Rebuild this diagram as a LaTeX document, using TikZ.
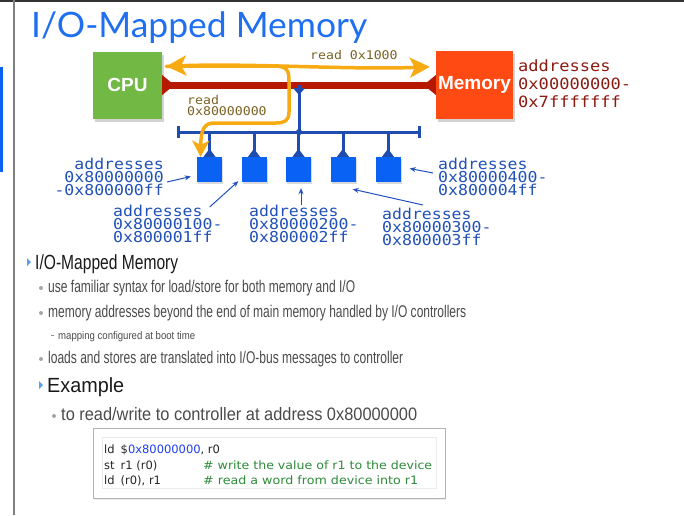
\documentclass[tikz,border=0pt]{standalone}
\usepackage{fontspec}
\usepackage{graphicx}
\setmainfont{Liberation Sans}
\newfontfamily\titlefont{Lato}
\newfontfamily\addrfont[FakeStretch=1.1]{DejaVu Sans Mono}
\newfontfamily\codefont{DejaVu Sans}
\usetikzlibrary{arrows.meta,positioning,shadows,calc}
\definecolor{titleblue}{HTML}{1F6FF0}
\definecolor{cpugreen}{HTML}{72B844}
\definecolor{memred}{HTML}{FF4A14}
\definecolor{rbuscol}{HTML}{B51A00}
\definecolor{buscol}{HTML}{1E4CB0}
\definecolor{devblue}{HTML}{0A62F5}
\definecolor{addrblue}{HTML}{2050B8}
\definecolor{addrred}{HTML}{8B1A10}
\definecolor{rdbrown}{HTML}{7A6224}
\definecolor{flowor}{HTML}{F7AA12}
\definecolor{bodygray}{HTML}{4A4A4A}
\definecolor{tribullet}{HTML}{5BA0F0}
\definecolor{codegreen}{HTML}{2E8B3A}
\definecolor{codeblue}{HTML}{2040F0}
\newcommand{\fitto}[2]{\resizebox{#1}{\height}{#2}}
\tikzset{unitbox/.style={minimum height=67, text=white, font=\bfseries\fontsize{19}{20}\selectfont, inner sep=0,
    drop shadow={opacity=0.35, shadow xshift=2pt, shadow yshift=-3pt}}}
\tikzset{dev/.style={fill=devblue, minimum width=25, minimum height=25, inner sep=0,
    drop shadow={opacity=0.3, shadow xshift=1pt, shadow yshift=-2pt}}}
\tikzset{addr/.style={inner sep=0, text=addrblue, font=\addrfont\fontsize{15}{13}\selectfont}}
\tikzset{rdlbl/.style={inner sep=0, text=rdbrown, font=\addrfont\fontsize{12}{11}\selectfont}}
\tikzset{rbus/.style={draw=rbuscol, line width=7pt}}
\tikzset{iobus/.style={draw=buscol, line width=3pt}}
\tikzset{flow/.style={draw=flowor, line width=3.5pt, line cap=round, line join=round}}
\tikzset{ptr/.style={draw=addrblue, line width=1pt, -{Stealth[length=6pt,width=5pt]}}}
\tikzset{head/.style={inner sep=0, text=black!90, font=\fontsize{20.5}{21}\selectfont}}
\tikzset{item/.style={inner sep=0, text=bodygray, font=\fontsize{17}{18}\selectfont}}
\tikzset{codeln/.style={inner sep=0, text=black!85, font=\codefont\fontsize{11.5}{12}\selectfont}}
\begin{document}
\begin{tikzpicture}[x=1pt,y=-1pt]
    \useasboundingbox (0,0) rectangle (684,515);
    % window edges
    \fill[black!80] (0,0) rectangle (684,1.5);
    \draw[gray, line width=2pt] (14,0) -- (14,515);
    \fill[devblue] (0,67) rectangle (3,172);
    %
    \node[inner sep=0, anchor=base west, text=titleblue, font=\titlefont\fontsize{35}{36}\selectfont] (title) at (31,37) {\fitto{336pt}{I/O-Mapped Memory}};
    %
    \node[unitbox, fill=cpugreen, minimum width=69] (cpu) at (127.5,85) {CPU};
    \node[unitbox, fill=memred, minimum width=77, minimum height=68] (mem) at (474.5,85) {Memory};
    \node[addr, text=addrred, font=\addrfont\fontsize{15.5}{18}\selectfont, anchor=north west, align=left] (maddr) at (518,60) {addresses\\0x00000000-\\0x7fffffff};
    %
    \foreach \i/\x in {1/209.5,2/254,3/298.5,4/343,5/388}
        \node[dev] (d\i) at (\x,169.5) {};
    \coordinate (busL) at (178,132);
    \coordinate (busR) at (419,132);
    \coordinate (tap) at (299,132);
    %
    \draw[rbus] (cpu.east) -- (mem.west);
    \fill[rbuscol] ($(cpu.east)+(0,-10)$) -- ($(cpu.east)+(12,0)$) -- ($(cpu.east)+(0,10)$) -- cycle;
    \fill[rbuscol] ($(mem.west)+(0,-10)$) -- ($(mem.west)+(-12,0)$) -- ($(mem.west)+(0,10)$) -- cycle;
    \draw[iobus] (tap |- cpu.east) -- (tap);
    \fill[buscol] ($(tap |- cpu.east)+(-6,3)$) -- ($(tap |- cpu.east)+(0,10)$) -- ($(tap |- cpu.east)+(6,3)$) -- cycle;
    \fill[buscol] ($(tap)+(-4,0)$) -- ($(tap)+(0,-4)$) -- ($(tap)+(4,0)$) -- ($(tap)+(0,4)$) -- cycle;
    \draw[iobus] (busL) -- (busR);
    \draw[iobus] ($(busL)+(0,-6)$) -- ($(busL)+(0,6)$);
    \draw[iobus] ($(busR)+(0,-6)$) -- ($(busR)+(0,6)$);
    \foreach \i in {1,...,5} {
        \draw[iobus] (d\i.north |- busL) -- (d\i.north);
        \fill[buscol] ($(d\i.north)+(-6,0)$) -- ($(d\i.north)+(0,-8)$) -- ($(d\i.north)+(6,0)$) -- cycle;
    }
    %
    \coordinate (fL) at ($(cpu.north east)+(4,15)$);
    \coordinate (fR) at ($(mem.north west)+(-6,16)$);
    \draw[flow, {Stealth[length=20pt,width=20pt,inset=5pt]}-{Stealth[length=20pt,width=20pt,inset=5pt]}] (fL) .. controls (250,63) and (350,70) .. (fR);
    \draw[flow, -{Stealth[length=16pt,width=17pt,inset=4pt]}] (fL) -- (272,66) .. controls (288,66) and (289,70) .. (289,82) -- (289,112)
        .. controls (289,121) and (284,123) .. (276,123) -- (214,123) .. controls (204,123) and (201,130) .. ($(d1.north)+(-9,0)$);
    \node[rdlbl, anchor=base west] (rd1) at (310,59) {read 0x1000};
    \node[rdlbl, anchor=north west, align=left] (rd2) at (187,95) {read\\0x80000000};
    %
    \node[addr, anchor=north east, align=right] (a1) at (164,158) {addresses\\0x80000000\\-0x800000ff};
    \node[addr, anchor=north west, align=left] (a2) at (113,205) {addresses\\0x80000100-\\0x800001ff};
    \node[addr, anchor=north west, align=left] (a3) at (249,205) {addresses\\0x80000200-\\0x800002ff};
    \node[addr, anchor=north west, align=left] (a4) at (382,208) {addresses\\0x80000300-\\0x800003ff};
    \node[addr, anchor=north west, align=left] (a5) at (438,158) {addresses\\0x80000400-\\0x800004ff};
    \draw[ptr] ($(a1.east)+(3,5)$) -- ($(d1.west)+(-6,7)$);
    \draw[ptr] ($(a2.north east)+(-13,2)$) -- ($(d2.south west)+(-3,-1)$);
    \draw[ptr] ($(d3.south)+(2.5,23)$) -- ($(d3.south)+(2.5,6)$);
    \draw[ptr] ($(a4.north west)+(41,-3)$) -- ($(d4.south east)+(-3,7)$);
    \draw[ptr] ($(a5.west)+(-5,-4)$) -- ($(d5.east)+(9,-1)$);
    %
    \node[head, anchor=base west] (h1) at (35,269) {\fitto{143pt}{I/O-Mapped Memory}};
    \node[item, anchor=base west] (b1) at (48,292) {\fitto{307pt}{use familiar syntax for load/store for both memory and I/O}};
    \node[item, anchor=base west] (b2) at (48,317) {\fitto{418pt}{memory addresses beyond the end of main memory handled by I/O controllers}};
    \node[item, font=\fontsize{11}{12}\selectfont, anchor=base west] (b3) at (58,339) {\fitto{137pt}{mapping configured at boot time}};
    \node[item, anchor=base west] (b4) at (48,363) {\fitto{355pt}{loads and stores are translated into I/O-bus messages to controller}};
    \node[head, anchor=base west] (h2) at (47,392) {\fitto{77pt}{Example}};
    \node[item, font=\fontsize{18}{19}\selectfont, anchor=base west] (b5) at (61,420) {\fitto{356pt}{to read/write to controller at address 0x80000000}};
    \foreach \n in {h1,h2}
        \fill[tribullet] ($(\n.base west)+(-8,-11)$) -- ($(\n.base west)+(-4,-7)$) -- ($(\n.base west)+(-8,-3)$) -- cycle;
    \foreach \n in {b1,b2,b4,b5}
        \fill[black!35] ($(\n.base west)+(-7,-4)$) circle (2pt);
    \draw[black!45, line width=0.8pt] ($(b3.base west)+(-7,-3.5)$) -- ($(b3.base west)+(-4,-3.5)$);
    %
    \node[draw=black!30, fill=white, line width=1pt, minimum width=352, minimum height=70,
        drop shadow={opacity=0.15, shadow xshift=1pt, shadow yshift=-1.5pt}] (outer) at (269,463) {};
    \node[draw=black!8, minimum width=334, minimum height=51] (inner) at (269,462.5) {};
    \node[codeln, anchor=base west] (c1) at (104,453) {ld\hspace{6pt}\$\textcolor{codeblue}{0x80000000}, r0};
    \node[codeln, anchor=base west] (c2) at (104,469) {st\hspace{6pt}r1 (r0)};
    \node[codeln, anchor=base west] (c3) at (104,484) {ld\hspace{6pt}(r0), r1};
    \node[codeln, text=codegreen, anchor=base west] (m2) at (203,469) {\fitto{229pt}{\# write the value of r1 to the device}};
    \node[codeln, text=codegreen, anchor=base west] (m3) at (203,484) {\fitto{215pt}{\# read a word from device into r1}};
\end{tikzpicture}
\end{document}
